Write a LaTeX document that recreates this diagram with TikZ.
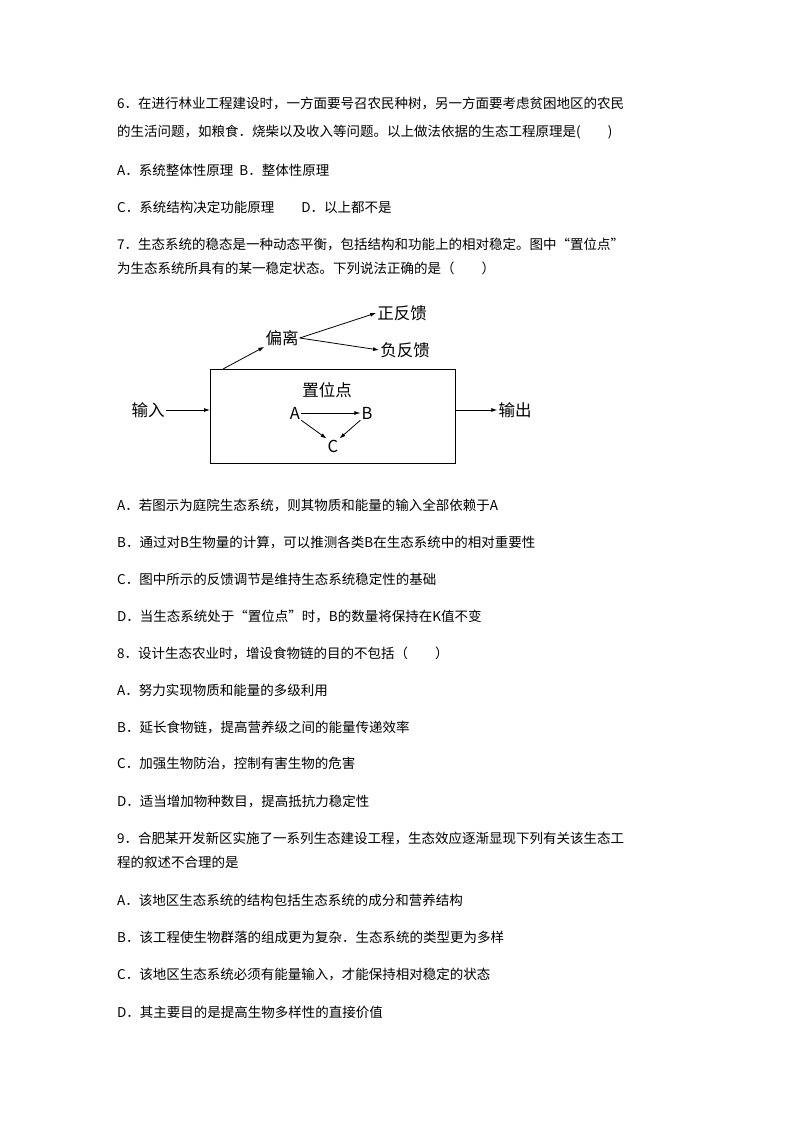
\documentclass[tikz,border=0pt]{standalone}
\usepackage{fontspec}
\setmainfont{Noto Sans CJK SC}
\usetikzlibrary{arrows.meta}
\begin{document}
\begin{tikzpicture}[x=1pt,y=-1pt,
  txt/.style={anchor=west,inner sep=0pt,font=\fontsize{13.5}{14}\selectfont},
  dg/.style={inner sep=1pt,font=\fontsize{16.5}{17}\selectfont},
  arr/.style={-{Latex[length=6pt,width=4pt]},line width=0.8pt}]
\useasboundingbox (0,0) rectangle (794,1123);
\node[txt] (l1) at (117,104) {6．在进行林业工程建设时，一方面要号召农民种树，另一方面要考虑贫困地区的农民};
\node[txt] (l2) at (117,132) {的生活问题，如粮食．烧柴以及收入等问题。以上做法依据的生态工程原理是(\qquad)};
\node[txt] (l3) at (117,170) {A．系统整体性原理\ \ B．整体性原理};
\node[txt] (l4) at (117,207) {C．系统结构决定功能原理\qquad D．以上都不是};
\node[txt] (l5) at (117,245) {7．生态系统的稳态是一种动态平衡，包括结构和功能上的相对稳定。图中“置位点”};
\node[txt] (l6) at (117,268) {为生态系统所具有的某一稳定状态。下列说法正确的是（\qquad）};
% diagram
\draw[line width=0.9pt] (210,369) rectangle (455,463);
\coordinate (bt) at (223,369);
\coordinate (bl) at (210,410);
\coordinate (br) at (455,410);
\node[dg] (pl) at (282,338) {偏离};
\node[dg] (zf) at (402,313) {正反馈};
\node[dg] (ff) at (405,350) {负反馈};
\node[dg] (zw) at (327,390) {置位点};
\node[dg] (A) at (295,413) {A};
\node[dg] (B) at (367,413) {B};
\node[dg] (C) at (333,446) {C};
\node[dg] (in) at (148,410) {输入};
\node[dg] (out) at (515,410) {输出};
\draw[arr] (bt) -- (pl.south west);
\draw[arr] (pl.east) -- (zf.west);
\draw[arr] (pl.east) -- (ff.west);
\draw[arr] (A) -- (B);
\draw[arr] (A.south east) -- (C.north west);
\draw[arr] (B.south west) -- (C.north east);
\draw[arr] (in) -- (bl);
\draw[arr] (br) -- (out);
\node[txt] (a1) at (117,505) {A．若图示为庭院生态系统，则其物质和能量的输入全部依赖于A};
\node[txt] (a2) at (117,542) {B．通过对B生物量的计算，可以推测各类B在生态系统中的相对重要性};
\node[txt] (a3) at (117,579) {C．图中所示的反馈调节是维持生态系统稳定性的基础};
\node[txt] (a4) at (117,616) {D．当生态系统处于“置位点”时，B的数量将保持在K值不变};
\node[txt] (b0) at (117,653) {8．设计生态农业时，增设食物链的目的不包括（\qquad）};
\node[txt] (b1) at (117,690) {A．努力实现物质和能量的多级利用};
\node[txt] (b2) at (117,727) {B．延长食物链，提高营养级之间的能量传递效率};
\node[txt] (b3) at (117,764) {C．加强生物防治，控制有害生物的危害};
\node[txt] (b4) at (117,801) {D．适当增加物种数目，提高抵抗力稳定性};
\node[txt] (c0) at (117,838) {9．合肥某开发新区实施了一系列生态建设工程，生态效应逐渐显现下列有关该生态工};
\node[txt] (c0b) at (117,862) {程的叙述不合理的是};
\node[txt] (c1) at (117,900) {A．该地区生态系统的结构包括生态系统的成分和营养结构};
\node[txt] (c2) at (117,937) {B．该工程使生物群落的组成更为复杂．生态系统的类型更为多样};
\node[txt] (c3) at (117,974) {C．该地区生态系统必须有能量输入，才能保持相对稳定的状态};
\node[txt] (c4) at (117,1012) {D．其主要目的是提高生物多样性的直接价值};
\end{tikzpicture}
\end{document}
